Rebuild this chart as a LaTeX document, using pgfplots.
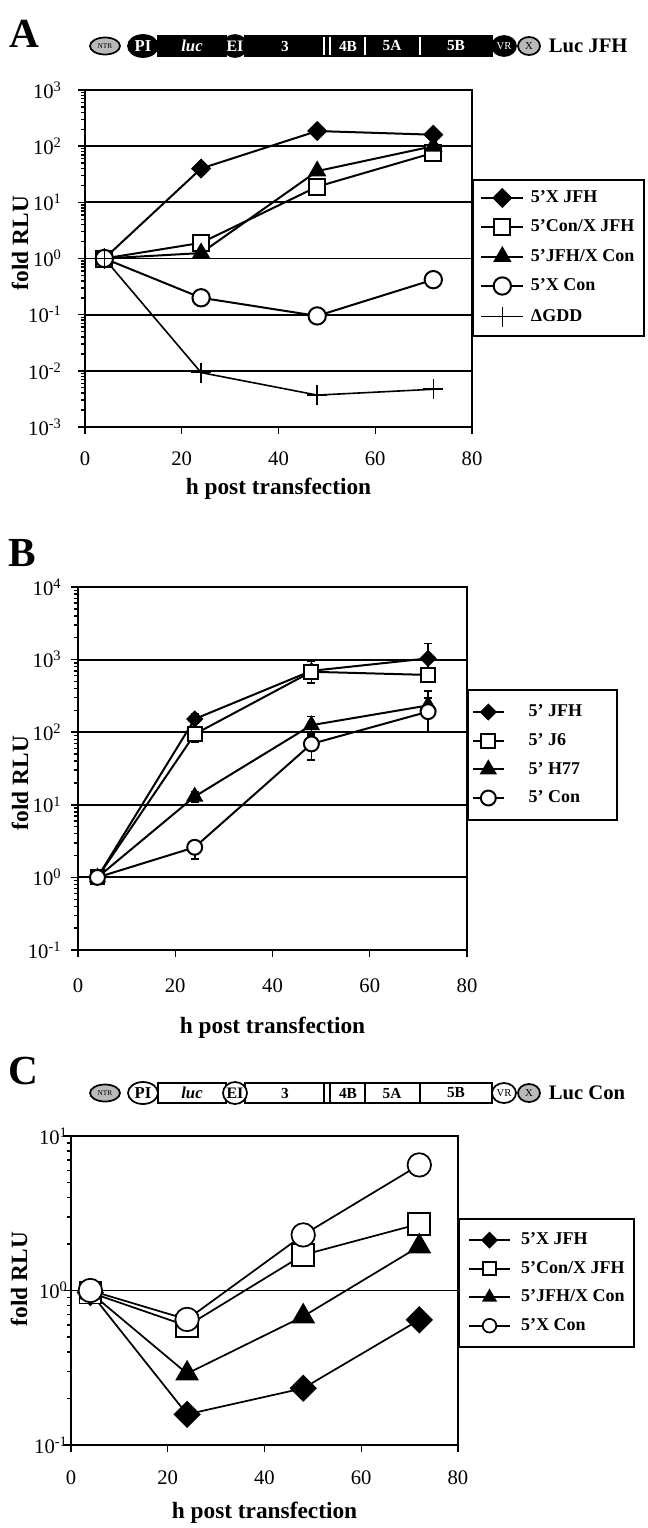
\documentclass[border=0pt]{standalone}
\usepackage{fontspec}
\setmainfont{Liberation Serif}
\usepackage{pgfplots}
\pgfplotsset{compat=1.18}

\pgfplotsset{
  panel/.style={
    scale only axis, xmin=0, xmax=80,
    xtick={0,20,40,60,80}, xticklabels={0,20,40,60,80},
    tick pos=left, tick align=outside,
    axis line style={line width=1.6pt},
    major tick length=5pt, minor tick length=3pt,
    tick style={black, line width=1.1pt},
    ymajorgrids, major grid style={line width=1.4pt, black},
    ticklabel style={font=\fontsize{15.5}{15.5}\selectfont},
    label style={font=\bfseries\fontsize{17.5}{18}\selectfont},
    xlabel={h post transfection},
    ylabel={fold RLU},
    legend cell align=left,
    clip=false,
  },
  limg/.style={legend image code/.code={\draw[mark repeat=2,mark phase=2,##1] plot coordinates {(0pt,0pt) (#1/2,0pt) (#1,0pt)};}},
}

\newcommand{\schematic}[4]{%
\begin{scope}[shift={(0,#1)}, line width=1.3pt]
  \draw[fill=#2] (158,-10) rectangle (226,10);
  \draw[fill=#2] (245,-10) rectangle (492,10);
  \draw[#3, line width=1.4pt] (324,-9.2) -- (324,9.2) (330,-9.2) -- (330,9.2);
  \draw[#3, line width=1.1pt] (365,-9.2) -- (365,9.2) (420,-9.2) -- (420,9.2);
  \draw[fill=gray!55] (105,0) ellipse [x radius=15, y radius=8.5];
  \draw[fill=#2] (143,0) ellipse [x radius=15, y radius=11];
  \draw[fill=#2] (235,0) ellipse [x radius=12, y radius=11];
  \draw[fill=#2] (504,0) ellipse [x radius=12, y radius=10];
  \draw[fill=gray!55] (529,0) ellipse [x radius=11, y radius=9];
  \begin{scope}[every node/.style={inner sep=0pt, font=\bfseries\fontsize{11.5}{11.5}\selectfont}]
    \node[font=\fontsize{5.5}{5.5}\selectfont] at (105,0) {NTR};
    \node[text=#3, font=\bfseries\fontsize{12.5}{12.5}\selectfont] at (143,0) {PI};
    \node[text=#3, font=\bfseries\itshape\fontsize{12.5}{12.5}\selectfont] at (192,0) {luc};
    \node[text=#3, font=\bfseries\fontsize{12}{12}\selectfont] at (235,0) {EI};
    \node[text=#3] at (285,0) {3};
    \node[text=#3] at (348,0) {4B};
    \node[text=#3] at (392,0) {5A};
    \node[text=#3] at (456,0) {5B};
    \node[text=#3, font=\fontsize{8}{8}\selectfont] at (504,0) {VR};
    \node[font=\fontsize{8}{8}\selectfont] at (529,0) {X};
    \node[anchor=west, font=\bfseries\fontsize{15.5}{15.5}\selectfont] at (548,0) {#4};
  \end{scope}
\end{scope}}

\begin{document}
\begin{tikzpicture}[x=0.75pt, y=-0.75pt]
\path[use as bounding box] (0,0) rectangle (647,1528);

% ---------------- Panel A ----------------
\begin{semilogyaxis}[panel,
  at={(63.75pt,-320.25pt)}, anchor=south west,
  width=290.25pt, height=252.75pt,
  ymin=1e-3, ymax=1e3,
  ytick={1e-3,1e-2,1e-1,1,10,100,1000},
  yticklabels={10\textsuperscript{-3},10\textsuperscript{-2},10\textsuperscript{-1},10\textsuperscript{0},10\textsuperscript{1},10\textsuperscript{2},10\textsuperscript{3}},
  minor ytick={0.002,0.003,0.004,0.005,0.006,0.007,0.008,0.009,0.02,0.03,0.04,0.05,0.06,0.07,0.08,0.09,0.2,0.3,0.4,0.5,0.6,0.7,0.8,0.9,2,3,4,5,6,7,8,9,20,30,40,50,60,70,80,90,200,300,400,500,600,700,800,900},
  yticklabel style={xshift=-9pt},
  xticklabel style={yshift=-10pt},
  xlabel style={at={(axis description cs:0.5,0)}, anchor=center, yshift=-46.5pt},
  ylabel style={at={(axis description cs:-0.168,0.546)}, anchor=center},
  limg=31.5pt,
  legend style={at={(axis description cs:1,0.736)}, anchor=north west, draw=black, line width=1.5pt,
    font=\bfseries\fontsize{13.5}{14}\selectfont, inner xsep=5.5pt, inner ysep=7pt, row sep=9pt,
    /tikz/every odd column/.style={column sep=5pt},
    nodes={inner sep=0pt, text height=10pt, text depth=3pt}},
]
\addplot[black, line width=1.5pt, mark=square*, mark size=4.6pt, mark options={rotate=45, fill=black, solid}]
  coordinates {(4,1) (24,40) (48,186) (72,160)};
\addlegendentry{\makebox[79pt][l]{5'X JFH}}
\addplot[black, line width=1.5pt, mark=square*, mark size=6pt, mark options={fill=white, solid}]
  coordinates {(4,1) (24,1.9) (48,19) (72,76)};
\addlegendentry{5'Con/X JFH}
\addplot[black, line width=1.5pt, mark=triangle*, mark size=6.5pt, mark options={fill=black, solid}]
  coordinates {(4,1) (24,1.25) (48,36) (72,100)};
\addlegendentry{5'JFH/X Con}
\addplot[black, line width=1.5pt, mark=*, mark size=6.5pt, mark options={fill=white, solid}]
  coordinates {(4,1) (24,0.2) (48,0.095) (72,0.42)};
\addlegendentry{5'X Con}
\addplot[black, line width=1.2pt, mark=+, mark size=7.5pt]
  coordinates {(4,1) (24,0.0093) (48,0.0037) (72,0.0047)};
\addlegendentry{ΔGDD}
\end{semilogyaxis}

% ---------------- Panel B ----------------
\begin{semilogyaxis}[panel,
  at={(58.5pt,-712.5pt)}, anchor=south west,
  width=291.75pt, height=272.25pt,
  ymin=0.1, ymax=1e4,
  ytick={0.1,1,10,100,1000,10000},
  yticklabels={10\textsuperscript{-1},10\textsuperscript{0},10\textsuperscript{1},10\textsuperscript{2},10\textsuperscript{3},10\textsuperscript{4}},
  minor ytick={0.2,0.3,0.4,0.5,0.6,0.7,0.8,0.9,2,3,4,5,6,7,8,9,20,30,40,50,60,70,80,90,200,300,400,500,600,700,800,900,2000,3000,4000,5000,6000,7000,8000,9000},
  yticklabel style={xshift=-4pt},
  xticklabel style={yshift=-13pt},
  xlabel style={at={(axis description cs:0.5,0)}, anchor=center, yshift=-58pt},
  ylabel style={at={(axis description cs:-0.149,0.46)}, anchor=center},
  limg=23pt,
  legend style={at={(axis description cs:1,0.719)}, anchor=north west, draw=black, line width=1.5pt,
    font=\bfseries\fontsize{13.5}{14}\selectfont, inner xsep=3pt, inner ysep=10pt, row sep=8.5pt,
    /tikz/every odd column/.style={column sep=18pt},
    nodes={inner sep=0pt, text height=10pt, text depth=3pt}},
  error bars/y dir=both, error bars/y explicit,
  error bars/error bar style={line width=1.3pt},
  error bars/error mark options={rotate=90, mark size=3pt, line width=1.3pt},
]
\addplot[black, line width=1.5pt, mark=square*, mark size=3.8pt, mark options={rotate=45, fill=black, solid}]
  coordinates {(4,1) +=(0,0) -=(0,0) (24,152) +=(0,25) -=(0,20) (48,700) +=(0,150) -=(0,150) (72,1040) +=(0,630) -=(0,300)};
\addlegendentry{\makebox[63pt][l]{5' JFH}}
\addplot[black, line width=1.5pt, mark=square*, mark size=5.2pt, mark options={fill=white, solid}]
  coordinates {(4,1) +=(0,0) -=(0,0) (24,94) +=(0,15) -=(0,22) (48,680) +=(0,260) -=(0,200) (72,615) +=(0,120) -=(0,120)};
\addlegendentry{5' J6}
\addplot[black, line width=1.5pt, mark=triangle*, mark size=6pt, mark options={fill=black, solid}]
  coordinates {(4,1) +=(0,0) -=(0,0) (24,13) +=(0,2) -=(0,2) (48,125) +=(0,40) -=(0,30) (72,234) +=(0,60) -=(0,60)};
\addlegendentry{5' H77}
\addplot[black, line width=1.5pt, mark=*, mark size=5.6pt, mark options={fill=white, solid}]
  coordinates {(4,1) +=(0,0) -=(0,0) (24,2.6) +=(0,0.5) -=(0,0.8) (48,69) +=(0,20) -=(0,28) (72,192) +=(0,180) -=(0,92)};
\addlegendentry{5' Con}
\end{semilogyaxis}

% ---------------- Panel C ----------------
\begin{semilogyaxis}[panel,
  at={(53.25pt,-1083.75pt)}, anchor=south west,
  width=290.25pt, height=231.75pt,
  ymin=0.1, ymax=10,
  ytick={0.1,1,10},
  yticklabels={10\textsuperscript{-1},10\textsuperscript{0},10\textsuperscript{1}},
  minor ytick={0.2,0.3,0.4,0.5,0.6,0.7,0.8,0.9,2,3,4,5,6,7,8,9},
  yticklabel style={xshift=6pt},
  xticklabel style={yshift=-11pt},
  xlabel style={at={(axis description cs:0.5,0)}, anchor=center, yshift=-51pt},
  ylabel style={at={(axis description cs:-0.134,0.537)}, anchor=center},
  limg=31pt,
  legend image post style={/tikz/every mark/.append style={scale=0.58}},
  legend style={at={(axis description cs:1,0.735)}, anchor=north west, draw=black, line width=1.5pt,
    font=\bfseries\fontsize{13.5}{14}\selectfont, inner xsep=6.75pt, inner ysep=9.4pt, row sep=8.4pt,
    /tikz/every odd column/.style={column sep=7.5pt},
    nodes={inner sep=0pt, text height=10pt, text depth=3pt}},
]
\addplot[black, line width=1.3pt, mark=square*, mark size=6.6pt, mark options={rotate=45, fill=black, solid}]
  coordinates {(4,0.97) (24,0.158) (48,0.233) (72,0.646)};
\addlegendentry{\makebox[75.5pt][l]{5'X JFH}}
\addplot[black, line width=1.3pt, mark=square*, mark size=8.2pt, mark options={fill=white, solid}]
  coordinates {(4,0.97) (24,0.59) (48,1.70) (72,2.70)};
\addlegendentry{5'Con/X JFH}
\addplot[black, line width=1.3pt, mark=triangle*, mark size=9pt, mark options={fill=black, solid}]
  coordinates {(4,0.97) (24,0.29) (48,0.68) (72,1.93)};
\addlegendentry{5'JFH/X Con}
\addplot[black, line width=1.3pt, mark=*, mark size=8.8pt, mark options={fill=white, solid}]
  coordinates {(4,1) (24,0.65) (48,2.29) (72,6.5)};
\addlegendentry{5'X Con}
\end{semilogyaxis}

% ---------------- Panel letters and constructs ----------------
\node[anchor=base west, inner sep=0pt, font=\bfseries\fontsize{31}{31}\selectfont] at (9,47) {A};
\node[anchor=base west, inner sep=0pt, font=\bfseries\fontsize{31}{31}\selectfont] at (8,566) {B};
\node[anchor=base west, inner sep=0pt, font=\bfseries\fontsize{31}{31}\selectfont] at (8,1084) {C};
\schematic{46}{black}{white}{Luc JFH}
\schematic{1093}{white}{black}{Luc Con}
\end{tikzpicture}
\end{document}
